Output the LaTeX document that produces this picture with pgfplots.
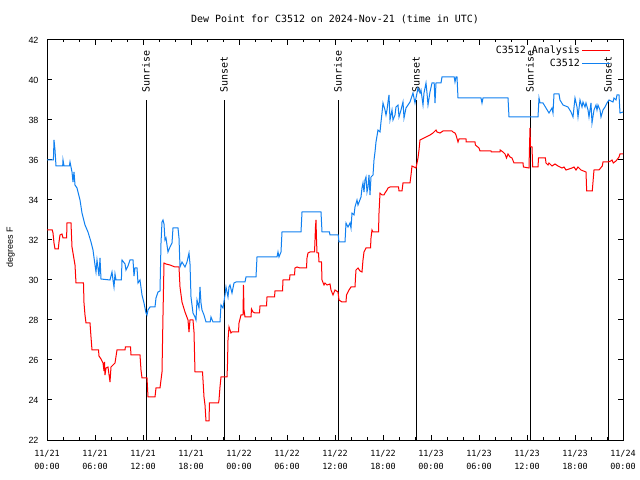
\documentclass[border=0pt]{standalone}
\usepackage{pgfplots}
\pgfplotsset{compat=1.18}
\usepackage{pgfplotstable}
\usepackage{fontspec}
\setmainfont{DejaVu Sans Mono}
\newfontfamily\sansf{Liberation Sans}
\definecolor{obsblue}{RGB}{16,128,240}
\definecolor{anared}{RGB}{255,0,0}

\pgfplotstableread{
h v
0 32.5
0.66 32.5
0.75 32.35
0.875 31.85
1.0 31.55
1.41 31.55
1.5 31.9
1.625 32.25
1.875 32.3
2.0 32.1
2.45 32.1
2.5 32.85
3.0 32.85
3.06 32.25
3.125 31.65
3.5 30.75
3.625 29.85
4.56 29.85
4.625 28.85
4.75 28.25
4.875 27.85
5.375 27.85
5.5 27.15
5.625 26.5
6.44 26.5
6.5 26.2
6.75 26.05
7.0 25.85
7.125 25.45
7.19 25.9
7.25 25.25
7.375 25.6
7.625 25.65
7.875 24.9
8.0 25.65
8.5 25.85
8.75 26.5
9.75 26.5
9.8 26.65
10.44 26.65
10.5 26.25
11.625 26.25
11.75 25.5
11.875 25.1
12.5 25.1
12.56 24.65
12.625 24.15
13.5 24.15
13.625 24.6
14.125 24.6
14.25 25.0
14.375 25.4
14.5 28.25
14.625 30.85
14.875 30.8
15.375 30.75
16.0 30.65
16.5 30.65
16.625 29.65
16.875 28.9
17.06 28.65
17.25 28.4
17.625 28.0
17.75 27.4
17.875 28.0
18.25 28.0
18.375 27.4
18.5 25.4
19.44 25.4
19.5 25.0
19.625 24.15
19.75 23.75
19.875 22.95
20.25 22.95
20.31 23.85
21.44 23.85
21.5 24.0
21.625 24.65
21.75 25.15
22.5 25.15
22.56 25.75
22.625 27.0
22.75 27.65
22.875 27.5
23.0 27.35
23.125 27.4
23.94 27.4
24.0 27.85
24.25 28.25
24.5 28.25
24.56 29.75
24.625 28.5
24.75 28.15
25.5 28.15
25.56 28.55
25.75 28.4
26.0 28.35
26.56 28.35
26.625 28.7
27.44 28.7
27.5 29.15
28.44 29.15
28.5 29.45
29.44 29.45
29.5 30.0
30.31 30.0
30.375 30.25
30.94 30.25
31.0 30.6
31.25 30.65
31.625 30.6
32.44 30.6
32.5 31.1
32.625 31.35
32.875 31.4
33.44 31.4
33.5 32.0
33.56 32.65
33.625 33.0
33.69 32.0
33.75 31.35
33.94 31.35
34.0 30.9
34.31 30.9
34.375 30.0
34.625 29.75
34.75 29.85
35.0 29.75
35.375 29.8
35.5 29.5
35.75 29.25
36.0 29.5
36.375 29.4
36.5 29.0
36.875 28.9
37.375 28.9
37.44 29.25
37.75 29.5
38.0 29.65
38.5 29.65
38.56 30.1
38.625 30.5
38.875 30.6
39.125 30.45
39.375 30.4
39.5 31.0
39.625 31.4
39.875 31.6
40.44 31.6
40.5 32.1
40.625 32.5
40.75 32.4
41.44 32.4
41.5 33.35
41.625 34.35
41.875 34.25
42.125 34.25
42.25 34.35
42.5 34.5
42.625 34.6
42.875 34.65
43.94 34.65
44.0 34.45
44.375 34.45
44.5 34.85
45.375 34.85
45.5 35.25
45.625 35.7
46.125 35.6
46.375 36.1
46.5 36.5
46.625 37.0
46.875 37.05
47.125 37.1
47.375 37.15
47.625 37.2
47.875 37.25
48.25 37.35
48.625 37.5
48.75 37.4
49.125 37.35
49.5 37.45
50.625 37.45
50.75 37.4
51.0 37.35
51.125 37.25
51.375 36.9
51.5 37.05
52.375 37.05
52.4 36.9
53.5 36.9
53.55 36.75
54.0 36.6
54.125 36.45
55.5 36.45
55.55 36.4
56.625 36.4
56.65 36.5
57.0 36.4
57.25 36.3
57.44 36.1
57.625 36.3
57.875 36.15
58.125 36.1
58.375 35.85
59.5 35.85
59.55 35.65
60.25 35.6
60.31 36.6
60.375 37.6
60.44 36.65
60.625 36.65
60.71 35.65
61.375 35.65
61.44 36.1
62.3 36.1
62.375 35.85
62.625 35.75
62.75 35.85
63.0 35.75
63.125 35.7
63.5 35.8
63.875 35.7
64.375 35.6
64.625 35.65
64.875 35.5
65.25 35.55
65.625 35.6
65.875 35.65
66.125 35.5
66.375 35.65
66.75 35.5
67.375 35.4
67.46 34.45
68.16 34.45
68.29 35.1
68.375 35.5
69.0 35.5
69.41 35.7
69.5 35.9
70.16 35.9
70.46 35.95
70.625 36.0
70.79 35.85
71.125 35.95
71.5 36.15
71.625 36.3
72.0 36.3
}\analysis

\pgfplotstableread{
h v
0.0 36.0
0.8 36.0
0.875 37.0
1.0 36.5
1.125 35.7
1.96 35.7
2.0 36.0
2.125 35.7
2.8 35.7
2.875 35.9
3.125 35.4
3.25 34.9
3.375 35.4
3.5 34.75
3.75 34.6
4.125 34.0
4.375 33.35
4.75 32.75
5.125 32.4
5.5 31.9
5.75 31.5
6.0 30.75
6.125 30.4
6.25 31.0
6.375 30.6
6.5 30.2
6.625 31.1
6.75 30.05
7.875 30.0
8.125 30.4
8.25 30.0
8.375 29.65
8.5 30.3
8.625 30.0
9.3 30.0
9.375 31.0
9.75 30.8
9.875 30.5
10.125 30.7
10.375 31.0
10.75 31.0
10.875 30.2
11.0 30.6
11.25 30.6
11.375 29.85
11.625 30.0
11.875 29.25
12.125 28.85
12.375 28.35
12.5 28.25
12.625 28.5
12.875 28.65
13.5 28.65
13.625 29.1
13.875 29.4
14.125 29.45
14.25 31.85
14.375 32.9
14.5 33.0
14.625 32.8
14.75 32.0
14.875 32.1
15.125 31.4
15.375 31.65
15.625 31.85
15.75 32.6
16.375 32.6
16.5 32.1
16.625 30.65
16.875 30.9
17.25 30.65
17.5 30.9
17.75 31.35
17.875 30.8
18.0 29.15
18.25 28.35
18.5 28.15
18.625 28.0
18.75 29.0
19.0 28.6
19.125 29.65
19.25 28.85
19.375 28.5
19.625 28.25
19.875 27.9
20.4 27.9
20.5 28.15
20.75 27.9
21.625 27.9
21.75 28.75
22.0 28.6
22.25 29.25
22.375 29.65
22.625 29.15
22.75 29.65
22.875 29.75
23.125 29.35
23.375 29.85
23.625 29.9
24.75 29.9
24.875 30.15
26.125 30.15
26.25 31.15
28.75 31.15
28.875 31.4
29.0 31.15
29.25 31.4
29.375 32.4
31.75 32.4
31.875 33.4
34.25 33.4
34.375 32.4
35.3 32.4
35.375 32.25
36.4 32.25
36.5 31.9
37.25 31.9
37.375 32.85
37.625 32.65
37.875 32.85
38.0 32.6
38.125 33.35
38.375 33.25
38.5 33.65
38.75 34.0
38.875 33.75
39.25 34.15
39.375 34.6
39.5 34.85
39.625 34.4
39.75 35.0
39.875 35.15
40.0 34.4
40.125 34.65
40.25 35.25
40.375 34.25
40.5 35.15
40.75 35.25
40.875 36.0
41.0 36.4
41.125 36.9
41.375 37.5
41.625 37.4
41.75 37.9
41.875 38.35
42.0 38.85
42.25 38.5
42.375 38.25
42.5 38.5
42.625 38.9
42.75 39.25
42.875 38.0
43.125 38.5
43.25 38.0
43.5 38.25
43.625 38.65
43.875 38.75
44.0 38.15
44.25 38.5
44.5 38.9
44.625 38.1
44.875 38.6
45.375 38.9
45.75 39.35
46.0 38.85
46.125 39.1
46.375 39.6
46.625 39.35
46.75 39.5
47.0 38.75
47.125 39.35
47.375 39.85
47.5 39.35
47.625 38.75
47.875 39.4
48.125 39.85
48.4 39.85
48.5 38.85
48.625 39.85
49.25 39.85
49.375 40.15
50.9 40.15
51.0 39.9
51.125 40.15
51.25 40.15
51.375 39.1
54.25 39.1
54.375 38.85
54.5 39.1
57.625 39.1
57.75 38.15
61.375 38.15
61.5 39.1
61.625 38.85
62.0 38.85
62.375 38.6
62.75 38.35
63.125 38.6
63.25 38.35
63.375 39.3
64.0 39.3
64.125 39.0
64.5 38.75
65.125 38.65
65.5 38.4
65.75 38.15
66.0 39.1
66.25 38.65
66.375 38.15
66.625 39.0
66.875 38.65
67.0 38.9
67.25 38.65
67.375 38.85
67.625 38.5
67.75 38.15
68.0 38.85
68.125 37.85
68.375 38.5
68.625 38.75
68.75 38.5
68.875 38.75
69.125 38.5
69.25 38.15
69.5 38.5
69.75 38.65
70.0 38.85
70.25 39.0
70.75 38.9
70.875 39.1
71.125 39.0
71.25 39.25
71.5 39.25
71.625 38.35
72.0 38.4
}\observed

\begin{document}
\begin{tikzpicture}
\path[use as bounding box] (0,0) rectangle (640bp,480bp);
\begin{axis}[
  at={(47bp,40bp)}, anchor=south west,
  scale only axis, width=576bp, height=400bp,
  xmin=0, xmax=72, ymin=22, ymax=42,
  axis line style={line width=1bp},
  every tick/.style={black, line width=1bp},
  tick align=inside,
  major tick length=5bp, minor tick length=2.5bp,
  xtick={0,6,...,72},
  minor x tick num=2,
  xticklabels={{11/21\\00:00},{11/21\\06:00},{11/21\\12:00},{11/21\\18:00},{11/22\\00:00},{11/22\\06:00},{11/22\\12:00},{11/22\\18:00},{11/23\\00:00},{11/23\\06:00},{11/23\\12:00},{11/23\\18:00},{11/24\\00:00}},
  xticklabel style={align=center, font=\fontsize{8.5}{13}\selectfont, yshift=-7bp},
  ytick={22,24,...,42},
  /pgf/number format/assume math mode=true,
  yticklabel style={font=\sansf\fontsize{9}{10}\selectfont, xshift=-5bp},
  ylabel={degrees F},
  ylabel style={font=\sansf\fontsize{9}{10}\selectfont, at={(rel axis cs:0,0.5)}, anchor=south, inner sep=0pt, yshift=32bp, xshift=-7bp},
  title={Dew Point for C3512 on 2024-Nov-21 (time in UTC)},
  title style={font=\fontsize{10}{12}\selectfont, at={(0.5,1)}, anchor=base, yshift=12bp},
  legend style={at={(1,1)}, anchor=north east, xshift=-11bp, yshift=-3bp, draw=none, fill=none,
    font=\fontsize{10}{13}\selectfont, row sep=0pt, inner sep=1bp},
  legend cell align=right,
  legend plot pos=right,
  legend image code/.code={\draw[#1] (0bp,0bp) -- (28bp,0bp);},
]
% sunrise / sunset markers
\addplot[black, line width=1bp, forget plot] coordinates {(12.375,22) (12.375,39.0)};
\addplot[black, line width=1bp, forget plot] coordinates {(22.125,22) (22.125,39.0)};
\addplot[black, line width=1bp, forget plot] coordinates {(36.375,22) (36.375,39.0)};
\addplot[black, line width=1bp, forget plot] coordinates {(46.125,22) (46.125,39.0)};
\addplot[black, line width=1bp, forget plot] coordinates {(60.375,22) (60.375,39.0)};
\addplot[black, line width=1bp, forget plot] coordinates {(70.125,22) (70.125,39.0)};
\node[rotate=90, anchor=west, inner sep=0pt, font=\fontsize{10}{12}\selectfont] at (axis cs:12.375,39.35) {Sunrise};
\node[rotate=90, anchor=west, inner sep=0pt, font=\fontsize{10}{12}\selectfont] at (axis cs:22.125,39.35) {Sunset};
\node[rotate=90, anchor=west, inner sep=0pt, font=\fontsize{10}{12}\selectfont] at (axis cs:36.375,39.35) {Sunrise};
\node[rotate=90, anchor=west, inner sep=0pt, font=\fontsize{10}{12}\selectfont] at (axis cs:46.125,39.35) {Sunset};
\node[rotate=90, anchor=west, inner sep=0pt, font=\fontsize{10}{12}\selectfont] at (axis cs:60.375,39.35) {Sunrise};
\node[rotate=90, anchor=west, inner sep=0pt, font=\fontsize{10}{12}\selectfont] at (axis cs:70.125,39.35) {Sunset};
\addplot[anared, line width=1bp] table[x=h, y=v] {\analysis};
\addlegendentry{C3512 Analysis}
\addplot[obsblue, line width=1bp] table[x=h, y=v] {\observed};
\addlegendentry{C3512}
\end{axis}
\end{tikzpicture}
\end{document}
